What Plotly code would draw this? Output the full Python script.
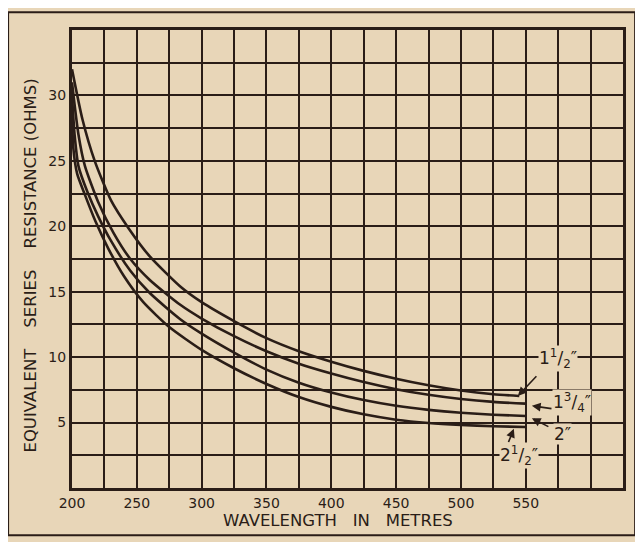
import plotly.graph_objects as go

# ---- data (wavelength in metres, resistance in ohms) ----
wl_1_5 = [200, 208, 217.5, 230, 244, 260, 283.5, 300, 325, 350, 375, 400, 425, 450, 475, 500, 525, 545]
r_1_5 = [32.0, 28.2, 25.0, 22.0, 19.8, 17.7, 15.4, 14.2, 12.75, 11.45, 10.45, 9.65, 8.95, 8.35, 7.85, 7.45, 7.17, 7.03]

wl_1_75 = [200, 205, 210, 220, 232, 245, 260, 283.5, 300, 325, 350, 375, 400, 425, 450, 475, 500, 525, 550]
r_1_75 = [31.0, 27.0, 24.6, 21.9, 19.5, 17.5, 15.9, 14.0, 12.95, 11.6, 10.45, 9.5, 8.75, 8.1, 7.55, 7.12, 6.8, 6.58, 6.45]

wl_2 = [200, 202, 205, 212, 220, 230, 245, 260, 283.5, 300, 325, 350, 375, 400, 425, 450, 475, 500, 525, 550]
r_2 = [30.0, 27.0, 24.6, 22.6, 20.8, 18.9, 16.6, 14.9, 12.9, 11.8, 10.35, 9.05, 8.05, 7.3, 6.72, 6.28, 5.97, 5.75, 5.6, 5.5]

wl_2_5 = [200, 201, 204, 210, 218, 228, 240, 255, 275, 300, 325, 350, 375, 400, 425, 450, 475, 500, 525, 550]
r_2_5 = [28.5, 26.0, 24.0, 22.4, 20.4, 18.3, 16.2, 14.2, 12.3, 10.55, 9.15, 7.95, 6.95, 6.2, 5.63, 5.22, 4.97, 4.82, 4.72, 4.66]

x_grid_vals = [200 + 25 * i for i in range(18)]
x_tick_text = ["200", "", "250", "", "300", "", "350", "", "400", "", "450", "", "500", "", "550", "", "", ""]
y_grid_vals = [2.5 * i for i in range(15)]
y_tick_text = ["", "", "5", "", "10", "", "15", "", "20", "", "25", "", "30", "", ""]

# curve labels and their arrows
label_texts = ["1<sup>1</sup>/<sub>2</sub>″", "1<sup>3</sup>/<sub>4</sub>″",
               "2″", "2<sup>1</sup>/<sub>2</sub>″"]
label_x = [575, 586, 578, 545]
label_y = [9.86, 6.5, 4.15, 2.5]
arrow_tail_x = [559.3, 571, 568.6, 536.2]
arrow_tail_y = [8.66, 6.05, 4.63, 3.39]
arrow_head_x = [543.9, 554.7, 554.7, 540.8]
arrow_head_y = [7.04, 6.28, 5.33, 4.53]

PAPER = "#E8D6B8"
INK = "#2a1d17"
FONT = "DejaVu Sans"
SP3 = "\u00a0\u00a0\u00a0"
SP4 = "\u00a0\u00a0\u00a0\u00a0"

fig = go.Figure()
for xs, ys in [(wl_1_5, r_1_5), (wl_1_75, r_1_75), (wl_2, r_2), (wl_2_5, r_2_5)]:
    fig.add_trace(go.Scatter(x=xs, y=ys, mode="lines",
                             line=dict(color=INK, width=2.6, shape="spline", smoothing=0.6),
                             showlegend=False, hoverinfo="skip"))

for i in range(len(label_texts)):
    fig.add_annotation(x=arrow_head_x[i], y=arrow_head_y[i], ax=arrow_tail_x[i], ay=arrow_tail_y[i],
                       xref="x", yref="y", axref="x", ayref="y", text="", showarrow=True,
                       arrowhead=2, arrowsize=1.1, arrowwidth=1.6, arrowcolor=INK)
    fig.add_annotation(x=label_x[i], y=label_y[i], xref="x", yref="y", text=label_texts[i],
                       showarrow=False, font=dict(family=FONT, size=17, color=INK),
                       bgcolor=PAPER, borderpad=0)

# axis titles
fig.add_annotation(x=-0.075, y=0.485, xref="paper", yref="paper", textangle=-90,
                   xanchor="center", yanchor="middle",
                   text="EQUIVALENT" + SP4 + "SERIES" + SP4 + "RESISTANCE (OHMS)",
                   showarrow=False, font=dict(family=FONT, size=16.5, color=INK))
fig.add_annotation(x=0.482, y=-0.07, xref="paper", yref="paper",
                   xanchor="center", yanchor="middle",
                   text="WAVELENGTH" + SP3 + "IN" + SP3 + "METRES",
                   showarrow=False, font=dict(family=FONT, size=16.5, color=INK))

# outer frame of the figure
fig.add_shape(type="rect", xref="paper", yref="paper", x0=-0.116, x1=1.022, y0=-0.103, y1=1.039,
              line=dict(color=INK, width=2), layer="below")

fig.update_layout(
    width=643, height=542,
    margin=dict(l=64, r=28, t=22, b=62),
    paper_bgcolor=PAPER, plot_bgcolor=PAPER,
    font=dict(family=FONT, size=14, color=INK),
    xaxis=dict(range=[200, 625], tickmode="array", tickvals=x_grid_vals, ticktext=x_tick_text,
               showgrid=True, gridcolor=INK, gridwidth=2, zeroline=False,
               showline=True, linecolor=INK, linewidth=3, mirror=True,
               ticks="", ticklabelstandoff=0, tickfont=dict(size=14)),
    yaxis=dict(range=[0, 35], tickmode="array", tickvals=y_grid_vals, ticktext=y_tick_text,
               showgrid=True, gridcolor=INK, gridwidth=2, zeroline=False,
               showline=True, linecolor=INK, linewidth=3, mirror=True,
               ticks="", ticklabelstandoff=0, tickfont=dict(size=14)),
)

fig.write_html("out.html")
